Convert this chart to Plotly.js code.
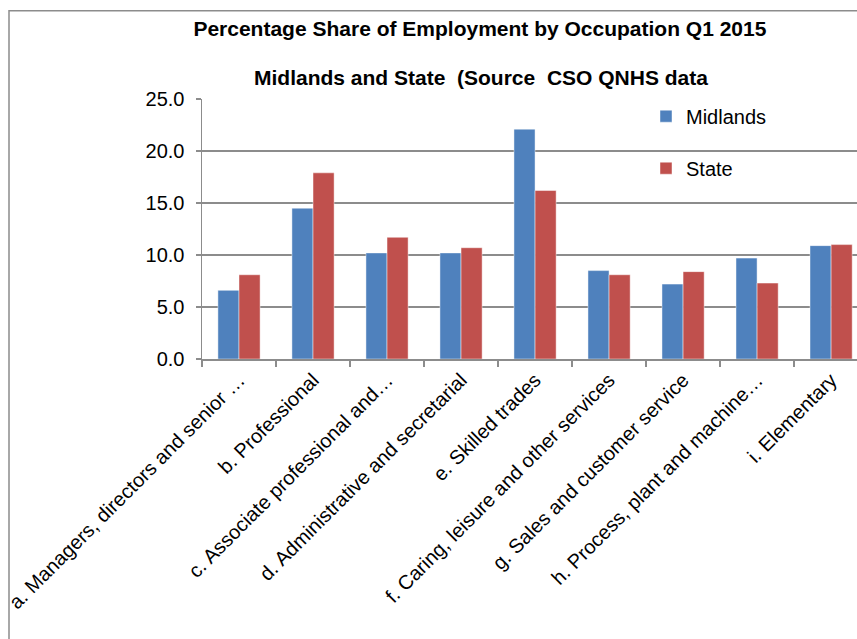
<!DOCTYPE html>
<html>
<head>
<meta charset="utf-8">
<script src="https://cdn.plot.ly/plotly-3.0.1.min.js"></script>
<style>
html,body{margin:0;padding:0;background:#fff;overflow:hidden;}
#chart{width:857px;height:639px;}
</style>
</head>
<body>
<div id="chart"></div>
<script>
const categories = [
  "a. Managers, directors and senior \u2026",
  "b. Professional",
  "c. Associate professional and\u2026",
  "d. Administrative and secretarial",
  "e. Skilled trades",
  "f. Caring, leisure and other services",
  "g. Sales and customer service",
  "h. Process, plant and machine\u2026",
  "i. Elementary"
];
const midlands = [6.6, 14.5, 10.2, 10.2, 22.1, 8.5, 7.2, 9.7, 10.9];
const state    = [8.1, 17.9, 11.7, 10.7, 16.2, 8.1, 8.4, 7.3, 11.0];
const yTicks = [0, 5, 10, 15, 20, 25];

const FONT = "Liberation Sans, Arial, sans-serif";

const traces = [
  {type:"bar", name:"Midlands", x:categories, y:midlands, legendgroup:"m",
   marker:{color:"#4F81BD", line:{color:"rgba(255,255,255,0.45)", width:1}}},
  {type:"bar", name:"State", x:categories, y:state, legendgroup:"s",
   marker:{color:"#C0504D", line:{color:"rgba(255,255,255,0.45)", width:1}}}
];

const layout = {
  width:857, height:639,
  margin:{l:202, r:0, t:99, b:280, pad:0},
  paper_bgcolor:"#fff", plot_bgcolor:"#fff",
  font:{family:FONT, size:20, color:"#000"},
  barmode:"group", bargap:0.43, bargroupgap:0,
  showlegend:true,
  title:{text:"Percentage Share of Employment by Occupation Q1 2015",
         font:{family:FONT, size:21, color:"#000", weight:"bold"},
         xref:"container", x:0.56, xanchor:"center",
         yref:"container", y:1-29/639, yanchor:"middle"},
  annotations:[{text:"Midlands and State\u00a0\u00a0(Source\u00a0\u00a0CSO QNHS data",
    xref:"paper", yref:"paper", x:(481-202)/655, y:(359.3-78)/260,
    xanchor:"center", yanchor:"middle", showarrow:false,
    font:{family:FONT, size:21, color:"#000", weight:"bold"}}],
  legend:{x:(646-202)/655, xanchor:"left", y:(359.3-97)/260, yanchor:"top",
    bgcolor:"rgba(0,0,0,0)", font:{family:FONT, size:20, color:"#000"},
    traceorder:"grouped", tracegroupgap:23, itemwidth:30},
  xaxis:{type:"category", range:[-0.5, 8.35], tickangle:-45,
    tickson:"boundaries", ticks:"outside", ticklen:6, tickcolor:"#8c8c8c", tickwidth:1.5,
    showline:true, linecolor:"#8c8c8c", linewidth:1.5, showgrid:false,
    tickfont:{family:FONT, size:20, color:"#000"}, fixedrange:true},
  yaxis:{range:[0,25], tickvals:yTicks, tickformat:".1f",
    ticks:"outside", ticklen:5, tickcolor:"#8c8c8c", tickwidth:1.5,
    showline:true, linecolor:"#8c8c8c", linewidth:1.5,
    showgrid:true, gridcolor:"#8c8c8c", gridwidth:1.5, zeroline:false,
    ticklabelstandoff:7,
    tickfont:{family:FONT, size:20, color:"#000"}, fixedrange:true},
  shapes:[{type:"rect", xref:"paper", yref:"paper",
    x0:(9-202)/655, x1:1.2, y0:-1.2, y1:(359.3-11)/260,
    line:{color:"#8c8c8c", width:1.5}, fillcolor:"rgba(0,0,0,0)", layer:"below"}]
};

Plotly.newPlot("chart", traces, layout, {displayModeBar:false, staticPlot:true});
</script>
</body>
</html>
